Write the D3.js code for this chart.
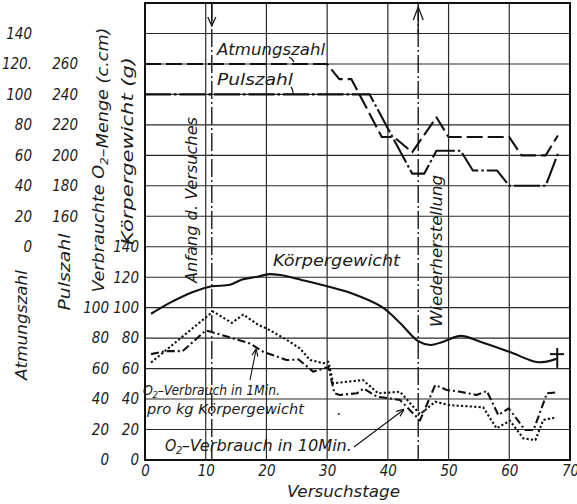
<!DOCTYPE html>
<html><head><meta charset="utf-8">
<script src="https://cdn.jsdelivr.net/npm/d3@7"></script>
<style>
html,body{margin:0;padding:0;background:#fff;}
svg text{font-family:"DejaVu Sans Condensed","Liberation Sans Narrow","DejaVu Sans",sans-serif;font-style:italic;fill:#1c1c1c;}
</style></head><body>
<svg id="c" width="577" height="504"></svg>
<script>
// ---------- data ----------
const xTicks = [0, 10, 20, 30, 40, 50, 60, 70];
const atmTicks = [0, 20, 40, 60, 80, 100, 120, 140];
const atmLabels = ["0", "20", "40", "60", "80", "100", "120.", "140"];
const pulsTicks = [160, 180, 200, 220, 240, 260];
const o2Ticks = [0, 20, 40, 60, 80, 100];
const weightTicks = [0, 20, 40, 60, 80, 100, 120, 140];

const atmDays = [0, 30, 32, 34, 39, 41, 44, 48, 50, 60, 62, 66, 68];
const atmVals = [120, 120, 110, 110, 72, 72, 62, 85, 72, 72, 60, 60, 73];

const pulsDays = [0, 37, 44, 46, 48, 52, 54, 58, 60, 66, 68];
const pulsVals = [240, 240, 188, 188, 203, 203, 190, 190, 180, 180, 201];

const weightDays = [1, 4, 8, 11, 14, 16, 18.5, 20.5, 23, 25, 30, 34, 39, 42, 45, 47, 49, 52, 55, 60, 64.5, 66, 67.8];
const weightVals = [96, 103, 110.5, 114, 115, 118.5, 120.3, 122, 121, 119, 114, 109.5, 100.5, 90, 78, 75.5, 77.5, 81.5, 78, 71, 64.3, 64.5, 66.5];

const o2MinDays = [1, 3.5, 6.2, 10, 11, 13.5, 17.3, 19.5, 21.7, 23.3, 25.3, 27.7, 30.2, 31.2, 32.1, 34.9, 36, 38.2, 42, 45.3, 47.8, 49.7, 51.9, 54.6, 56.3, 58.2, 59.9, 62.6, 64, 66.2, 67.8];
const o2MinVals = [69.5, 71.5, 71.5, 85, 84, 81, 76.5, 71, 68, 65.6, 66, 58, 61, 43.8, 42.7, 43.8, 47, 41.6, 39.4, 26, 49.2, 46, 44.8, 42.7, 45.3, 29.5, 33.9, 19.7, 19.7, 43.8, 44.4];

const o2TenDays = [1, 11.2, 14.3, 16.2, 18.7, 20, 23.3, 25.5, 27.2, 29.4, 30.2, 31, 35.9, 38.4, 42, 45.3, 47.8, 50.2, 55.7, 57.9, 60.1, 62.3, 64.3, 65.6, 67.8];
const o2TenVals = [64, 97.5, 90, 95.5, 88.6, 86.4, 79, 73.3, 65.6, 63.5, 64.5, 50.3, 52.5, 43.8, 44.8, 30, 38.3, 36, 34.6, 20.8, 25.8, 14.2, 13.1, 26.3, 28];

const markerDays = [11, 45];   // Anfang d. Versuches, Wiederherstellung
const deathDay = 67.9;

// ---------- layout ----------
const L = 145, R = 570, T = 3, B = 460;
const FONT = '"DejaVu Sans Condensed","Liberation Sans Narrow","DejaVu Sans",sans-serif';
const svg = d3.select("#c");
const xS = d3.scaleLinear().domain([0, 70]).range([L, R]);
const yInner = d3.scaleLinear().domain([0, 300]).range([B, T]);  // O2 & Körpergewicht
const yAtm = d3.scaleLinear().domain([-140, 160]).range([B, T]); // Atmungszahl
const yPuls = d3.scaleLinear().domain([0, 300]).range([B, T]);   // Pulszahl

svg.append("rect").attr("width", 577).attr("height", 504).attr("fill", "#fff");

// grid
const g = svg.append("g");
g.selectAll(".hg").data(d3.range(20, 300, 20)).join("line")
  .attr("x1", L).attr("x2", R).attr("y1", d => yInner(d)).attr("y2", d => yInner(d))
  .attr("stroke", "#2a2a2a").attr("stroke-width", 1.1);
g.selectAll(".vg").data(xTicks.slice(1, -1)).join("line")
  .attr("x1", d => xS(d)).attr("x2", d => xS(d)).attr("y1", T).attr("y2", B)
  .attr("stroke", "#2a2a2a").attr("stroke-width", 1.2);
g.append("rect").attr("x", L).attr("y", T).attr("width", R - L).attr("height", B - T)
  .attr("fill", "none").attr("stroke", "#111").attr("stroke-width", 2);

// marker lines
markerDays.forEach(d => {
  g.append("line").attr("x1", xS(d)).attr("x2", xS(d)).attr("y1", T).attr("y2", B)
    .attr("stroke", "#1a1a1a").attr("stroke-width", 1.4).attr("stroke-dasharray", "18,3,2,3");
});
{
  const x1 = xS(markerDays[0]);
  g.append("path").attr("d", `M${x1 - 4},${T + 14} L${x1},${T + 23} L${x1 + 4},${T + 14}`)
    .attr("fill", "none").attr("stroke", "#1a1a1a").attr("stroke-width", 1.3);
  g.append("line").attr("x1", x1).attr("x2", x1).attr("y1", T).attr("y2", T + 23).attr("stroke", "#1a1a1a").attr("stroke-width", 1.4);
  const x2 = xS(markerDays[1]);
  g.append("path").attr("d", `M${x2 - 5},${T + 17} L${x2},${T + 4} L${x2 + 5},${T + 17}`)
    .attr("fill", "none").attr("stroke", "#1a1a1a").attr("stroke-width", 1.3);
  g.append("line").attr("x1", x2).attr("x2", x2).attr("y1", T + 4).attr("y2", T + 30).attr("stroke", "#1a1a1a").attr("stroke-width", 1.4);
}

// series
function series(days, vals, y, dash, curve) {
  const line = d3.line().x((d, i) => xS(days[i])).y(d => y(d)).curve(curve || d3.curveLinear);
  svg.append("path").attr("d", line(vals)).attr("fill", "none")
    .attr("stroke", "#111").attr("stroke-width", 2.1)
    .attr("stroke-dasharray", dash).attr("stroke-linejoin", "round");
}
series(atmDays, atmVals, yAtm, "16,5");
series(pulsDays, pulsVals, yPuls, "26,3,2.5,3");
series(weightDays, weightVals, yInner, null, d3.curveCatmullRom.alpha(0.5));
series(o2MinDays, o2MinVals, yInner, "8,3,2,3");
series(o2TenDays, o2TenVals, yInner, "2.2,2.2");

// death cross
svg.append("line").attr("x1", xS(deathDay)).attr("x2", xS(deathDay))
  .attr("y1", yInner(73.5)).attr("y2", yInner(60.5)).attr("stroke", "#111").attr("stroke-width", 2);
svg.append("line").attr("x1", xS(deathDay - 1.2)).attr("x2", xS(deathDay + 1.1))
  .attr("y1", yInner(69.5)).attr("y2", yInner(69.5)).attr("stroke", "#111").attr("stroke-width", 2);

// axes (left label columns)
function leftAxis(scale, ticks, labels, x) {
  const ax = d3.axisLeft(scale).tickValues(ticks).tickSize(0).tickPadding(0)
    .tickFormat((d, i) => labels ? labels[i] : d);
  const a = svg.append("g").attr("transform", `translate(${x},0)`).call(ax);
  a.select(".domain").remove();
  a.selectAll("text").attr("font-size", 15).attr("fill", "#1c1c1c")
    .style("font-family", FONT).style("font-style", "italic");
}
leftAxis(yAtm, atmTicks, atmLabels, 32);
leftAxis(yPuls, pulsTicks, null, 78);
leftAxis(yInner, o2Ticks, null, 109);
leftAxis(yInner, weightTicks, null, 139);

// x axis
const xa = svg.append("g").attr("transform", `translate(0,${B})`)
  .call(d3.axisBottom(xS).tickValues(xTicks).tickSize(0).tickPadding(5));
xa.select(".domain").remove();
xa.selectAll("text").attr("font-size", 15).attr("fill", "#1c1c1c")
  .style("font-family", FONT).style("font-style", "italic");

// text helpers
function label(parts, x, y, size, len, rot) {
  const t = svg.append("text").attr("font-size", size);
  if (rot) {
    t.attr("transform", `translate(${x},${y}) rotate(-90)`).attr("text-anchor", "middle");
  } else {
    t.attr("x", x).attr("y", y);
  }
  parts.forEach(p => {
    if (typeof p === "string") t.append("tspan").text(p);
    else t.append("tspan").attr("font-size", size * 0.7).attr("dy", p.dy).text(p.t);
  });
  if (len) t.attr("textLength", len).attr("lengthAdjust", "spacingAndGlyphs");
  return t;
}
// horizontal "O2-..." label built from separate pieces
function o2label(x, y, rest, len, size) {
  svg.append("text").attr("x", x).attr("y", y).attr("font-size", size).text("O");
  svg.append("text").attr("x", x + size * 0.68).attr("y", y + 3).attr("font-size", size * 0.68).text("2");
  svg.append("text").attr("x", x + size * 1.05).attr("y", y).attr("font-size", size)
    .attr("textLength", len - size * 1.05).attr("lengthAdjust", "spacingAndGlyphs").text(rest);
}

label(["Versuchstage"], 287, 497, 16, 113);
label(["Atmungszahl"], 27, 325, 16, 110, true);
label(["Pulszahl"], 70, 272, 16, 77, true);
label(["Verbrauchte O", {t: "2", dy: 4}, {t: "", dy: -4}, "\u2013Menge (c.cm)"], 104, 160, 16, 265, true);
label(["Körpergewicht (g)"], 133, 151, 16, 188, true);
label(["Anfang d. Versuches"], 197, 200, 16, 166, true);
label(["Wiederherstellung"], 442, 251, 16, 152, true);

label(["Atmungszahl"], 217, 55, 16, 108);
label(["Pulszahl"], 217, 85, 16, 76);
label(["Körpergewicht"], 273, 266, 16, 127);
o2label(143, 395, "\u2013Verbrauch in 1Min.", 137, 14);
label(["pro kg Körpergewicht"], 147, 414, 14, 157);
label(["."], 337, 415, 16);
o2label(165, 451, "\u2013Verbrauch in 10Min.", 187, 16);

// leader ticks
svg.append("path").attr("d", "M289,57 Q292,58 294,62").attr("fill", "none").attr("stroke", "#111").attr("stroke-width", 1.3);
svg.append("path").attr("d", "M291,87 Q293,89 293,93").attr("fill", "none").attr("stroke", "#111").attr("stroke-width", 1.3);

// arrows from labels to curves
svg.append("defs").append("marker").attr("id", "ah").attr("viewBox", "0 0 10 10")
  .attr("refX", 9).attr("refY", 5).attr("markerWidth", 7).attr("markerHeight", 7).attr("orient", "auto")
  .append("path").attr("d", "M0,1 L10,5 L0,9").attr("fill", "none").attr("stroke", "#111").attr("stroke-width", 1.5);
svg.append("line").attr("x1", 250).attr("y1", 380).attr("x2", xS(18.3)).attr("y2", yInner(74) + 2)
  .attr("stroke", "#111").attr("stroke-width", 1.1).attr("marker-end", "url(#ah)");
svg.append("line").attr("x1", 354).attr("y1", 447).attr("x2", xS(42.6)).attr("y2", yInner(33))
  .attr("stroke", "#111").attr("stroke-width", 1.1).attr("marker-end", "url(#ah)");
</script>
</body></html>
